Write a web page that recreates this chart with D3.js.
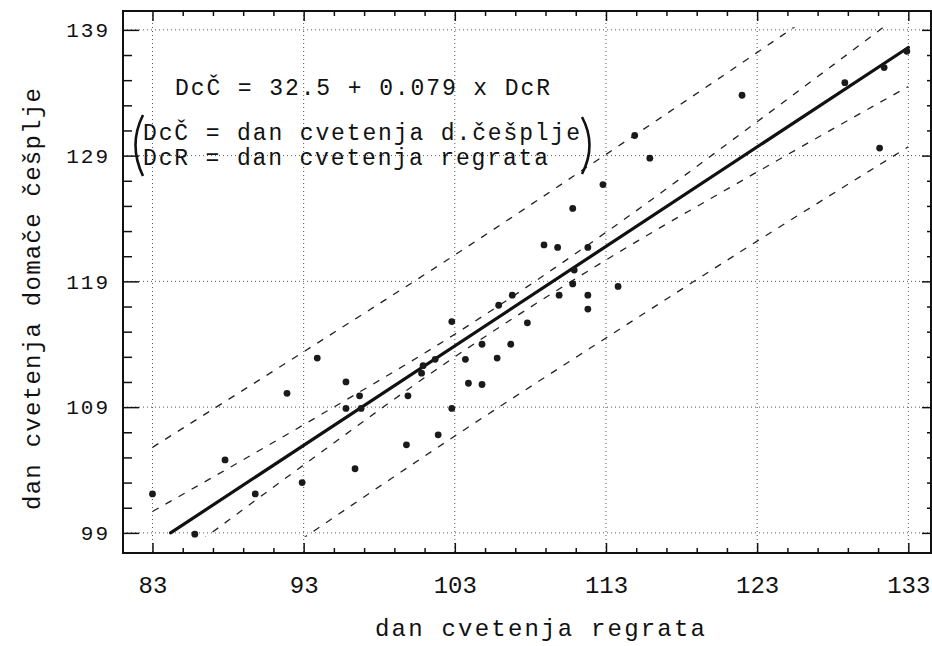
<!DOCTYPE html>
<html>
<head>
<meta charset="utf-8">
<script src="https://cdn.jsdelivr.net/npm/d3@7/dist/d3.min.js"></script>
<style>
  body { margin: 0; background: #fff; }
  svg { display: block; font-family: "Liberation Mono", "Courier New", monospace; }
</style>
</head>
<body>
<div id="chart"></div>
<script>
// dan cvetenja regrata (x) / dan cvetenja domace cesplje (y)
const dcr = [83.0, 85.8, 87.8, 89.8, 92.9, 91.9, 93.9, 95.8, 96.7, 95.8, 96.8, 99.9,
  100.8, 100.9, 101.7, 102.8, 102.8, 103.7, 103.9, 104.8, 104.8, 105.8, 105.9, 106.8,
  106.7, 107.8, 108.9, 109.8, 109.9, 110.8, 110.9, 110.8, 111.8, 111.8, 111.8, 113.8,
  96.4, 99.8, 101.9, 112.8, 122.0, 114.9, 115.9, 128.8, 131.1, 131.4, 132.9];
const dcc = [102.1, 98.9, 104.8, 102.1, 103.0, 110.1, 112.9, 111.0, 109.9, 108.9, 108.9, 109.9,
  111.7, 112.3, 112.8, 115.8, 108.9, 112.8, 110.9, 110.8, 114.0, 112.9, 117.1, 117.9,
  114.0, 115.7, 121.9, 121.7, 117.9, 124.8, 119.9, 118.8, 121.7, 117.9, 116.8, 118.6,
  104.1, 106.0, 106.8, 126.7, 133.8, 130.6, 128.8, 134.8, 129.6, 136.0, 137.3];

// regression line end points
const fitX = [84.2, 133.0];
const fitY = [99.0, 137.6];

// dashed bands, read at the major x ticks
const bandX      = [83, 93, 103, 113, 123, 133];
const upperOuter = [105.8, 113.4, 121.1, 129.1, 137.2, 145.5];
const lowerOuter = [90.4, 98.6, 106.7, 114.5, 122.2, 129.7];
const upperInner = [100.7, 107.6, 114.8, 122.9, 131.7, 140.7];
const lowerInner = [95.5, 104.4, 113.0, 120.7, 127.7, 134.5];

const xTicks = [83, 93, 103, 113, 123, 133];
const yTicks = [99, 109, 119, 129, 139];

const eqLines = [
  "DcČ = 32.5 + 0.079 x DcR",
  "DcČ = dan cvetenja d.češplje",
  "DcR = dan cvetenja regrata"
];
const xTitle = "dan cvetenja regrata";
const yTitle = "dan cvetenja domače češplje";

const W = 932, H = 646;
const m = {left: 123, top: 11, right: 1, bottom: 93};
const iw = W - m.left - m.right, ih = H - m.top - m.bottom;

const svg = d3.select('#chart').append('svg')
  .attr('width', W).attr('height', H);

const x = d3.scaleLinear().domain([81.05, 134.5]).range([0, iw]);
const y = d3.scaleLinear().domain([97.4, 140.5]).range([ih, 0]);

const g = svg.append('g').attr('transform', `translate(${m.left},${m.top})`);

// dotted grid
g.append('g').selectAll('line').data(xTicks).join('line')
  .attr('x1', d => x(d)).attr('x2', d => x(d))
  .attr('y1', 0).attr('y2', ih)
  .attr('stroke', '#555').attr('stroke-width', 1).attr('stroke-dasharray', '1,3');
g.append('g').selectAll('line').data(yTicks).join('line')
  .attr('y1', d => y(d)).attr('y2', d => y(d))
  .attr('x1', 0).attr('x2', iw)
  .attr('stroke', '#555').attr('stroke-width', 1).attr('stroke-dasharray', '1,3');

// axes (ticks point inward)
const xMinor = d3.range(85, 134, 2).filter(v => !xTicks.includes(v));
const yMinor = d3.range(101, 140, 2).filter(v => !yTicks.includes(v));

function clean(sel) {
  sel.select('.domain').remove();
  sel.selectAll('line').attr('stroke', '#111').attr('stroke-width', 1.5);
}

g.append('g').attr('transform', `translate(0,${ih})`)
  .call(d3.axisBottom(x).tickValues(xMinor).tickSize(-5).tickFormat(''))
  .call(clean);
const xAx = g.append('g').attr('transform', `translate(0,${ih})`)
  .call(d3.axisBottom(x).tickValues(xTicks).tickSize(-10).tickPadding(23).tickFormat(d3.format('d')))
  .call(clean);
xAx.selectAll('text').attr('font-size', 24).attr('fill', '#111')
  .attr('font-family', '"Liberation Mono", monospace');

g.append('g')
  .call(d3.axisTop(x).tickValues(xMinor).tickSize(-5).tickFormat(''))
  .call(clean);
g.append('g')
  .call(d3.axisTop(x).tickValues(xTicks).tickSize(-10).tickFormat(''))
  .call(clean);

g.append('g')
  .call(d3.axisLeft(y).tickValues(yMinor).tickSize(-9).tickFormat(''))
  .call(clean);
const yAx = g.append('g')
  .call(d3.axisLeft(y).tickValues(yTicks).tickSize(-16).tickPadding(13).tickFormat(d3.format('d')))
  .call(clean);
yAx.selectAll('text').attr('font-size', 21).attr('fill', '#111')
  .attr('letter-spacing', 2)
  .attr('font-family', '"Liberation Mono", monospace');

g.append('g').attr('transform', `translate(${iw},0)`)
  .call(d3.axisRight(y).tickValues(yMinor).tickSize(-4).tickFormat(''))
  .call(clean);
g.append('g').attr('transform', `translate(${iw},0)`)
  .call(d3.axisRight(y).tickValues(yTicks).tickSize(-9).tickFormat(''))
  .call(clean);

// frame
g.append('rect').attr('x', 0).attr('y', 0).attr('width', iw).attr('height', ih)
  .attr('fill', 'none').attr('stroke', '#111').attr('stroke-width', 2);

// clip for the bands
g.append('clipPath').attr('id', 'plotclip').append('rect')
  .attr('x', x(83)).attr('width', x(133) - x(83))
  .attr('y', y(139.2)).attr('height', y(98.7) - y(139.2));

const band = d3.line().x((d, i) => x(bandX[i])).y(d => y(d)).curve(d3.curveMonotoneX);
const bands = g.append('g').attr('clip-path', 'url(#plotclip)');
[upperOuter, lowerOuter, upperInner, lowerInner].forEach(b => {
  bands.append('path').attr('d', band(b))
    .attr('fill', 'none').attr('stroke', '#222')
    .attr('stroke-width', 1.3).attr('stroke-dasharray', '7,8');
});

// regression line
g.append('path')
  .attr('d', d3.line()(fitX.map((v, i) => [x(v), y(fitY[i])])))
  .attr('fill', 'none').attr('stroke', '#111').attr('stroke-width', 3.2)
  .attr('stroke-linecap', 'round');

// points
g.append('g').selectAll('circle').data(dcr).join('circle')
  .attr('cx', d => x(d)).attr('cy', (d, i) => y(dcc[i]))
  .attr('r', 3.4).attr('fill', '#1a1a1a');

// equation text
const eq = svg.append('g').attr('fill', '#111').attr('font-size', 23);
eq.append('text').attr('x', 175).attr('y', 95)
  .attr('textLength', 375).attr('lengthAdjust', 'spacing').text(eqLines[0]);
eq.append('text').attr('x', 143).attr('y', 140)
  .attr('textLength', 437).attr('lengthAdjust', 'spacing').text(eqLines[1]);
eq.append('text').attr('x', 143).attr('y', 165)
  .attr('textLength', 405).attr('lengthAdjust', 'spacing').text(eqLines[2]);

// brackets round the legend
svg.append('path').attr('d', 'M143,115 Q128,145 143,176')
  .attr('fill', 'none').attr('stroke', '#111').attr('stroke-width', 2.6);
svg.append('path').attr('d', 'M582,117 Q597,145 582,174')
  .attr('fill', 'none').attr('stroke', '#111').attr('stroke-width', 2.6);

// axis titles
svg.append('text').attr('x', 375).attr('y', 636)
  .attr('font-size', 24).attr('fill', '#111')
  .attr('textLength', 330).attr('lengthAdjust', 'spacing').text(xTitle);

svg.append('text')
  .attr('transform', 'translate(40,510) rotate(-90)')
  .attr('font-size', 24).attr('fill', '#111')
  .attr('textLength', 422).attr('lengthAdjust', 'spacing').text(yTitle);
</script>
</body>
</html>
